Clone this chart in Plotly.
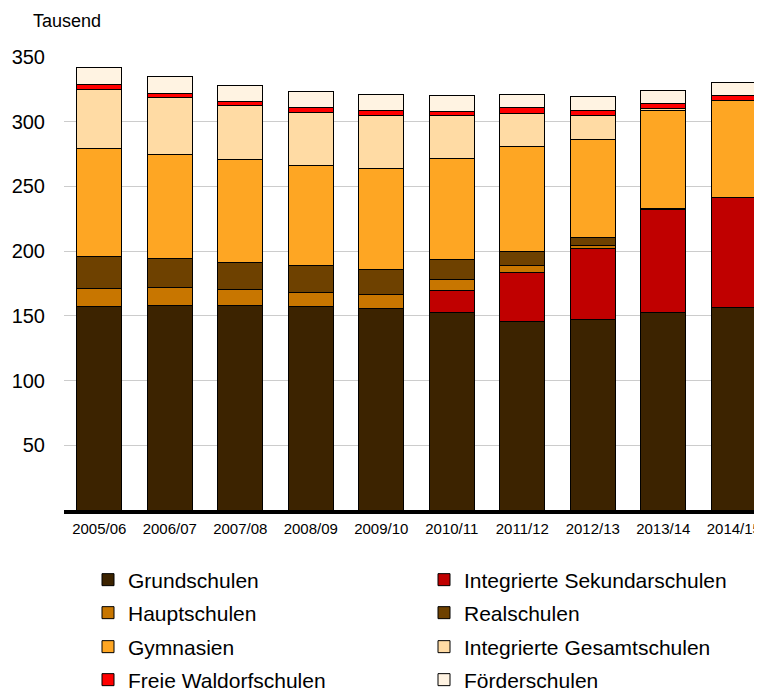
import plotly.graph_objects as go

years = ["2005/06", "2006/07", "2007/08", "2008/09", "2009/10",
         "2010/11", "2011/12", "2012/13", "2013/14", "2014/15"]

grundschulen = [157.5, 158.2, 158.2, 156.9, 155.4, 152.3, 145.9, 146.9, 152.3, 156.7]
sekundarschulen = [None, None, None, None, None, 17.2, 37.9, 55.4, 79.6, 84.7]
hauptschulen = [14.0, 13.4, 12.4, 11.4, 11.3, 8.3, 5.4, 2.0, None, None]
realschulen = [24.7, 22.4, 20.9, 20.3, 19.4, 15.5, 10.3, 6.0, 0.8, None]
gymnasien = [83.0, 81.0, 79.3, 77.9, 78.1, 78.1, 81.1, 75.7, 75.8, 75.3]
gesamtschulen = [45.9, 43.8, 41.5, 41.0, 40.9, 33.2, 26.1, 18.6, 2.0, None]
waldorfschulen = [3.3, 3.1, 3.6, 3.5, 3.6, 3.6, 3.9, 4.1, 3.9, 3.9]
foerderschulen = [13.4, 12.9, 12.4, 12.3, 12.1, 11.9, 10.8, 10.4, 9.8, 9.5]

y_ticks = [50, 100, 150, 200, 250, 300, 350]

series = [
    ("Grundschulen", grundschulen, "#3C2300"),
    ("Integrierte Sekundarschulen", sekundarschulen, "#C00000"),
    ("Hauptschulen", hauptschulen, "#C87600"),
    ("Realschulen", realschulen, "#6E4100"),
    ("Gymnasien", gymnasien, "#FEA623"),
    ("Integrierte Gesamtschulen", gesamtschulen, "#FFDBA4"),
    ("Freie Waldorfschulen", waldorfschulen, "#FF0000"),
    ("Förderschulen", foerderschulen, "#FFF3E2"),
]

FONT = "Liberation Sans, Arial, sans-serif"

fig = go.Figure()
legend_names = ["legend"] + [f"legend{i}" for i in range(2, 9)]
for i, (name, vals, col) in enumerate(series):
    fig.add_trace(go.Bar(
        x=years, y=vals, name=name,
        marker=dict(color=col, line=dict(color="black", width=1)),
        legend=legend_names[i],
    ))

# page body has an 8px default margin; compensate so the screen layout matches
OFF = 8
SW, SH = 762, 692
W, H = SW - OFF, SH - OFF
PL, PT, PB = 64, 57, 510          # screen px: plot left, top, bottom
ML, MR, MT = PL - OFF, 0, PT - OFF
MB = SH - PB
pw = W - ML - MR
ph = H - MT - MB

def px_x(x):
    return (x - PL) / pw

def px_y(y):
    return (PB - y) / ph

row_y = [580, 613, 647, 680]
col_x = [88, 424]
legends = {}
for i, ln in enumerate(legend_names):
    r, c = divmod(i, 2)
    legends[ln] = dict(
        x=px_x(col_x[c]), y=px_y(row_y[r]), xanchor="left", yanchor="middle",
        orientation="h", font=dict(family=FONT, size=21, color="black"),
        bgcolor="rgba(0,0,0,0)", borderwidth=0,
    )

fig.update_layout(
    width=W, height=H,
    margin=dict(l=ML, r=MR, t=MT, b=MB, autoexpand=False),
    barmode="stack", bargap=0.362,
    plot_bgcolor="white", paper_bgcolor="white",
    font=dict(family=FONT, color="black"),
    showlegend=True,
    **legends,
    xaxis=dict(
        range=[-0.5, 9.4], showline=True, linewidth=4, linecolor="black",
        showgrid=False, ticks="", tickfont=dict(size=15, family=FONT),
        ticklabelstandoff=2,
    ),
    yaxis=dict(
        range=[0, 350], tickvals=y_ticks, showgrid=True, gridcolor="#CCCCCC",
        gridwidth=1, zeroline=False, showline=False, ticks="",
        tickfont=dict(size=20, family=FONT), ticklabelstandoff=18,
    ),
    annotations=[dict(
        text="Tausend", xref="paper", yref="paper", x=px_x(31), y=px_y(21),
        xanchor="left", yanchor="middle", showarrow=False,
        font=dict(size=18, family=FONT, color="black"),
    )],
)

fig.write_html("out.html")
